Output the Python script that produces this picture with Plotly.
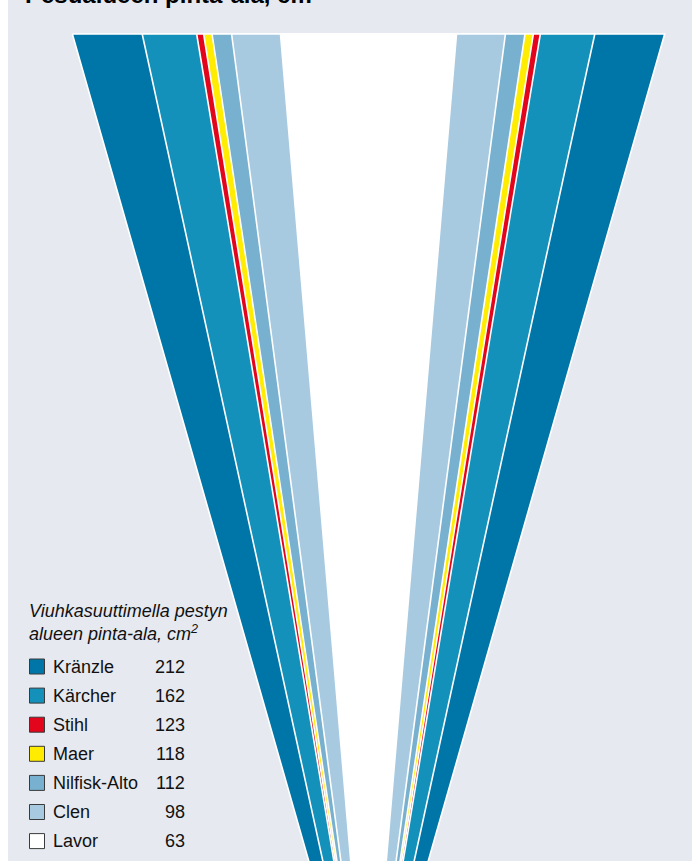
import plotly.graph_objects as go

# ---- data ----
products = ["Kränzle", "Kärcher", "Stihl", "Maer", "Nilfisk-Alto", "Clen", "Lavor"]
areas = [212, 162, 123, 118, 112, 98, 63]
colors = ["#0076a8", "#1391bb", "#e3051b", "#ffec00", "#78b1cf", "#a7cae0", "#ffffff"]
title_text = "Pesualueen pinta-ala, cm²"
legend_title = "<i>Viuhkasuuttimella pestyn<br>alueen pinta-ala, cm<sup>2</sup></i>"

# ---- layout constants (data space = screen pixels) ----
X0, W, H = 8, 684, 861
BG = "#e6e9ef"
CX = 368.5          # fan centre line
TOP = 34            # fan top edge
APEX = 1070         # convergence point (below the visible area)
K = 1.397           # half-width at top per cm²
FONT = "Liberation Sans, Arial, Helvetica, sans-serif"

fig = go.Figure()

# fan wedges, largest first so smaller ones sit on top
for name, v, c in zip(products, areas, colors):
    hw = K * v
    fig.add_trace(go.Scatter(
        x=[CX - hw, CX + hw, CX, CX - hw],
        y=[TOP, TOP, APEX, TOP],
        mode="lines", fill="toself", fillcolor=c,
        line=dict(color="white", width=1.6),
        name=name, showlegend=False, hoverinfo="skip",
    ))

# custom legend
ROW0, STEP = 666.5, 29.1
SQ_X, NAME_X, VAL_X = 37, 51, 187
rows = [ROW0 + i * STEP for i in range(len(products))]
fig.add_trace(go.Scatter(
    x=[SQ_X] * len(products), y=rows, mode="markers",
    marker=dict(symbol="square", size=15, color=colors,
                line=dict(color="#3a3a3a", width=1)),
    showlegend=False, hoverinfo="skip",
))
for name, v, y in zip(products, areas, rows):
    fig.add_annotation(x=NAME_X, y=y, text=name, showarrow=False,
                       xanchor="left", yanchor="middle",
                       font=dict(family=FONT, size=18, color="#111111"))
    fig.add_annotation(x=VAL_X, y=y, text=str(v), showarrow=False,
                       xanchor="right", yanchor="middle",
                       font=dict(family=FONT, size=18, color="#111111"))

fig.add_annotation(x=27, y=646, text=legend_title, showarrow=False,
                   xanchor="left", yanchor="bottom", align="left",
                   font=dict(family=FONT, size=18, color="#111111"))

fig.add_annotation(x=23, y=10, text=f"<b>{title_text}</b>", showarrow=False,
                   xanchor="left", yanchor="bottom",
                   font=dict(family=FONT, size=24, color="#000000"))

fig.update_layout(
    width=W, height=H,
    margin=dict(l=0, r=0, t=0, b=0),
    paper_bgcolor=BG, plot_bgcolor=BG,
    xaxis=dict(range=[X0, X0 + W], visible=False, fixedrange=True),
    yaxis=dict(range=[H, 0], visible=False, fixedrange=True),
    showlegend=False,
)

fig.write_html("out.html",
               post_script="document.body.style.margin='0px 0px 0px 8px';")
